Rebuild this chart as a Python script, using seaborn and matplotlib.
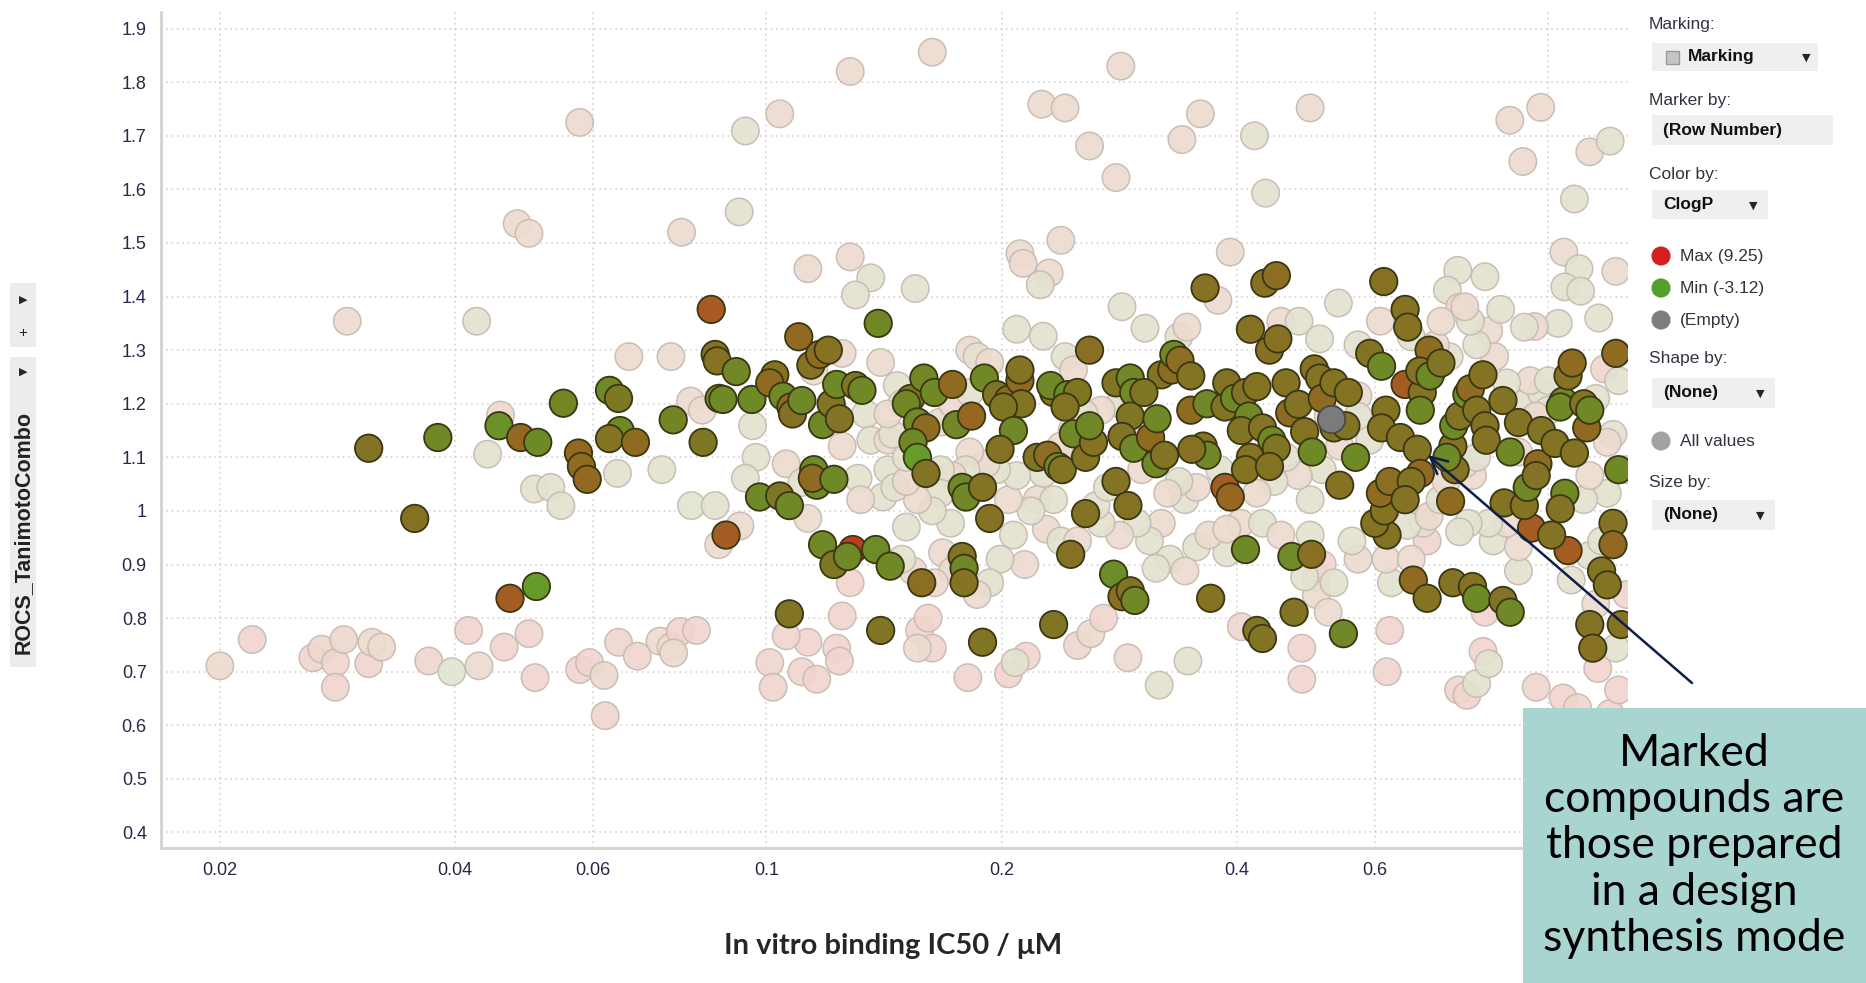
import matplotlib
matplotlib.use('Agg')
import matplotlib.pyplot as plt
import seaborn as sns
import pandas as pd
from matplotlib.colors import LinearSegmentedColormap, to_rgb
from matplotlib.patches import Rectangle
from matplotlib.ticker import NullLocator

# marked compounds (prepared in design synthesis mode)
marked_ic50 = [
    0.031, 0.0355, 0.038, 0.0455, 0.0485, 0.051, 0.0575, 0.058, 0.059, 0.055,
    0.063, 0.0647, 0.065, 0.063, 0.068, 0.076, 0.083, 0.047, 0.0508, 0.085,
    0.086, 0.0865, 0.087, 0.0915, 0.0888, 0.088, 0.0958, 0.098, 0.110, 0.114,
    0.117, 0.120, 0.1025, 0.101, 0.105, 0.1075, 0.108, 0.111, 0.118, 0.121,
    0.124, 0.123, 0.130, 0.1325, 0.139, 0.104, 0.107, 0.115, 0.116, 0.1145,
    0.122, 0.107, 0.118, 0.122, 0.129, 0.127, 0.138, 0.144, 0.140, 0.158,
    0.153, 0.151, 0.159, 0.164, 0.173, 0.156, 0.160, 0.154, 0.156, 0.160,
    0.175, 0.183, 0.190, 0.197, 0.204, 0.211, 0.211, 0.212, 0.201, 0.207,
    0.178, 0.180, 0.189, 0.193, 0.178, 0.179, 0.179, 0.189, 0.199, 0.222,
    0.229, 0.236, 0.233, 0.231, 0.243, 0.250, 0.241, 0.247, 0.239, 0.256,
    0.259, 0.233, 0.245, 0.256, 0.262, 0.259, 0.280, 0.292, 0.295, 0.292,
    0.285, 0.295, 0.280, 0.278, 0.290, 0.285, 0.292, 0.296, 0.310, 0.315,
    0.320, 0.323, 0.330, 0.304, 0.316, 0.332, 0.338, 0.349, 0.349, 0.364,
    0.366, 0.362, 0.366, 0.350, 0.386, 0.388, 0.397, 0.386, 0.392, 0.410,
    0.414, 0.405, 0.416, 0.410, 0.416, 0.434, 0.449, 0.440, 0.451, 0.424,
    0.431, 0.443, 0.449, 0.440, 0.410, 0.424, 0.431, 0.470, 0.473, 0.462,
    0.467, 0.479, 0.488, 0.498, 0.499, 0.502, 0.510, 0.514, 0.532, 0.532,
    0.541, 0.547, 0.551, 0.555, 0.567, 0.591, 0.616, 0.620, 0.612, 0.612,
    0.622, 0.600, 0.617, 0.610, 0.627, 0.656, 0.661, 0.656, 0.647, 0.680,
    0.686, 0.668, 0.656, 0.672, 0.690, 0.686, 0.710, 0.704, 0.685, 0.706,
    0.729, 0.760, 0.755, 0.742, 0.750, 0.700, 0.757, 0.770, 0.787, 0.795,
    0.825, 0.810, 0.830, 0.833, 0.875, 0.894, 0.916, 0.878, 0.755, 0.800,
    0.810, 0.875, 0.894, 0.952, 0.932, 0.970, 0.980, 1.02, 0.940, 0.965,
    1.045, 1.06, 1.036, 1.05, 1.036, 1.06, 1.01, 1.073, 1.08, 1.11,
    1.12, 1.13, 1.13, 1.14, 1.17, 1.19, 1.24, 1.22, 1.23, 1.21,
    1.21, 0.370,
]
marked_score = [
    1.117, 0.986, 1.137, 1.159, 1.137, 1.128, 1.108, 1.083, 1.059, 1.201,
    1.225, 1.210, 1.150, 1.135, 1.128, 1.170, 1.128, 0.837, 0.859, 1.376,
    1.292, 1.280, 1.210, 1.260, 0.955, 1.208, 1.208, 1.026, 1.325, 1.272,
    1.292, 1.300, 1.254, 1.239, 1.214, 1.194, 1.181, 1.206, 1.161, 1.200,
    1.172, 1.236, 1.234, 1.225, 1.350, 1.028, 1.010, 1.077, 1.048, 1.061,
    1.059, 0.808, 0.937, 0.900, 0.928, 0.915, 0.928, 0.897, 0.777, 0.866,
    1.210, 1.200, 1.248, 1.221, 1.236, 1.166, 1.155, 1.128, 1.100, 1.070,
    1.161, 1.177, 1.248, 1.217, 1.208, 1.243, 1.263, 1.200, 1.194, 1.150,
    1.044, 1.026, 1.044, 0.986, 0.915, 0.893, 0.866, 0.755, 1.115, 1.100,
    1.104, 1.083, 1.221, 1.234, 1.217, 1.221, 1.194, 1.144, 1.077, 1.100,
    1.300, 0.788, 0.919, 0.995, 1.128, 1.159, 1.239, 1.248, 1.221, 1.177,
    1.139, 1.117, 1.055, 0.882, 1.010, 0.840, 0.851, 0.833, 1.137, 1.088,
    1.254, 1.104, 1.263, 1.221, 1.172, 1.292, 1.281, 1.252, 1.188, 1.416,
    1.200, 1.121, 1.104, 1.115, 1.194, 1.239, 1.210, 1.044, 1.026, 1.221,
    1.177, 1.150, 1.100, 1.077, 1.339, 1.425, 1.439, 1.300, 1.321, 1.232,
    1.155, 1.132, 1.117, 1.083, 0.928, 0.777, 0.762, 0.915, 0.811, 1.239,
    1.183, 1.199, 1.148, 0.919, 1.110, 1.265, 1.248, 1.210, 1.239, 1.155,
    1.048, 0.771, 1.159, 1.221, 1.100, 1.294, 1.428, 1.188, 1.155, 1.270,
    0.955, 0.977, 1.000, 1.033, 1.055, 1.376, 1.343, 1.236, 1.137, 1.115,
    1.070, 1.055, 1.021, 0.871, 1.221, 1.188, 1.261, 1.300, 1.261, 1.252,
    1.276, 1.077, 1.121, 1.100, 1.018, 0.837, 1.159, 1.177, 1.217, 1.228,
    1.254, 1.188, 1.159, 1.132, 1.206, 1.110, 1.165, 1.015, 0.866, 0.859,
    0.837, 0.833, 0.811, 0.968, 1.010, 1.088, 1.150, 1.126, 1.044, 1.066,
    1.205, 1.252, 1.194, 1.033, 1.004, 0.926, 0.955, 1.276, 1.108, 1.200,
    1.155, 1.188, 0.788, 0.744, 0.888, 0.862, 0.788, 1.294, 1.077, 0.977,
    0.937, 0.837,
]
marked_clogp = [
    1.3, 1.5, -0.4, -1.2, 3.0, -0.6, 3.0, 2.8, 3.0, -0.3,
    -0.5, 0.8, -0.5, 1.4, 2.6, -0.2, 0.9, 4.2, -2.0, 4.5,
    1.6, 1.8, -0.4, -0.3, 4.2, -0.6, -0.5, -0.6, 2.8, 1.6,
    2.6, 1.8, 1.7, 2.6, -0.5, 2.7, 1.5, -0.4, -0.5, 1.2,
    1.3, -0.6, 1.0, -0.4, -0.3, 1.0, -0.5, -0.7, -0.4, 2.6,
    -0.5, 1.2, -0.4, 1.0, 7.0, -0.6, -0.7, -0.5, 1.1, 2.2,
    1.0, -0.3, -0.4, -0.5, 2.8, -0.5, 2.6, -0.3, -2.2, 1.3,
    -0.4, 3.2, -0.5, 1.2, 2.6, 2.7, 1.4, 1.3, 1.0, -0.4,
    -0.5, -0.4, 1.3, 1.6, 1.3, -0.3, 1.4, 1.2, 1.5, 1.2,
    2.5, -0.4, 1.2, -0.5, -0.6, 1.0, 1.3, -0.5, 1.3, 1.4,
    2.0, 1.2, 1.7, 1.5, 1.4, -0.3, 1.2, -0.4, -0.5, 1.1,
    1.3, -0.4, 1.3, -0.8, 1.5, 2.2, 1.2, -0.4, 2.6, -0.5,
    1.4, 1.2, 2.4, 1.1, -0.4, -0.5, 2.3, 1.3, 2.6, 1.8,
    -0.4, 1.3, -0.4, 1.7, 1.2, 1.5, -0.5, 4.3, 3.3, 1.3,
    -0.5, 1.2, 1.6, 1.4, 1.8, 2.0, 2.2, 1.9, 1.7, 1.4,
    1.2, -0.5, 1.1, 1.5, -0.6, 1.2, 1.3, -0.7, 1.3, 1.4,
    2.4, 1.3, 1.5, 2.0, -0.6, 1.5, 1.3, 2.6, 1.4, 1.2,
    1.6, -0.4, 1.2, 1.5, -0.6, 1.5, 1.9, 1.3, 1.4, -0.6,
    1.5, 1.4, 1.6, 2.6, 2.3, 1.8, 1.6, 4.3, 1.4, 1.2,
    2.7, 1.3, 1.4, 2.6, 1.3, -0.5, 1.5, 2.5, 1.3, -0.6,
    1.2, 1.3, 1.6, -0.5, 2.6, 1.4, -0.6, 1.3, -1.0, 2.5,
    1.4, 1.3, 1.5, 1.4, 1.3, -0.5, 1.3, 1.4, 1.3, 1.4,
    -0.6, 1.3, -0.4, 4.4, 1.4, 2.6, 1.3, 1.5, -0.5, 1.3,
    -0.6, 1.6, -0.5, -0.5, 1.3, 4.3, 1.4, 2.6, 1.4, 1.3,
    2.7, -0.5, 1.3, 1.8, 1.4, 1.3, 1.4, 2.6, -0.5, 1.3,
    2.8, 1.4,
]

# all other compounds (not marked)
other_ic50 = [
    0.020, 0.022, 0.0263, 0.027, 0.0281, 0.0281, 0.0288, 0.031, 0.0313, 0.0322,
    0.037, 0.0396, 0.0416, 0.0429, 0.0462, 0.0497, 0.0506, 0.0577, 0.0594, 0.0622,
    0.062, 0.0647, 0.0684, 0.0731, 0.0755, 0.0776, 0.0814, 0.0761, 0.0426, 0.0291,
    0.044, 0.0457, 0.048, 0.0497, 0.0505, 0.053, 0.0546, 0.0577, 0.0645, 0.0667,
    0.0735, 0.0755, 0.0779, 0.0802, 0.080, 0.0828, 0.086, 0.0869, 0.0923, 0.094,
    0.096, 0.097, 0.094, 0.0925,
    0.163, 0.284, 0.128, 0.104, 0.225, 0.241, 0.259, 0.280, 0.359, 0.340,
    0.421, 0.435, 0.496, 0.893, 0.978, 0.928, 1.13, 1.20, 1.08,
    0.113, 0.128, 0.136, 0.130, 0.155, 0.211, 0.213, 0.230, 0.224, 0.392,
    0.378, 0.766, 0.830, 0.743, 0.770, 0.539, 1.047, 1.095, 1.05, 1.10,
    1.16, 1.03, 0.96, 0.238,
    0.140, 0.125, 0.115, 0.147, 0.149, 0.134, 0.136, 0.143, 0.131, 0.141,
    0.143, 0.125, 0.106, 0.111, 0.113, 0.132,
    0.128, 0.125, 0.123, 0.113, 0.111, 0.116, 0.124, 0.101, 0.102, 0.106,
    0.157, 0.161, 0.163, 0.156, 0.181, 0.204, 0.215, 0.208, 0.250, 0.260,
    0.270, 0.290, 0.346, 0.318, 0.405, 0.484, 0.484, 0.622, 0.627, 0.768,
    0.787, 0.810, 0.825, 0.839, 0.830, 0.965, 1.045, 1.09, 1.157, 1.22,
    1.20, 1.23, 1.26, 1.15, 1.13,
    0.182, 0.186, 0.209, 0.226, 0.241, 0.247, 0.285, 0.305, 0.337, 0.345,
    0.455, 0.480, 0.510, 0.571, 0.610, 0.668, 0.839, 0.869, 0.932, 1.22,
    1.18, 1.23, 1.15, 1.21, 1.19, 1.26, 1.19, 1.11, 1.13, 1.17,
    1.07, 0.916, 0.850, 0.916, 0.885, 0.839, 0.790, 0.770, 0.700, 0.692,
    0.660, 0.630, 0.620, 0.668, 0.704, 0.727, 0.740, 0.800, 0.782, 0.810,
    0.916, 0.932, 0.980, 0.948, 1.000, 1.000, 0.965, 0.885, 0.854, 0.810,
    0.747, 0.717, 0.795, 0.729, 0.782, 0.571, 0.571, 0.591, 0.523, 0.514,
    0.541, 0.496, 0.479, 0.462, 0.446, 0.424, 0.404, 0.431, 0.455, 0.496,
    0.505, 0.514, 0.505, 0.523, 0.488, 0.532, 0.571, 0.561, 0.388, 0.355,
    0.368, 0.388, 0.343, 0.355, 0.380, 0.337, 0.326, 0.320, 0.309, 0.328,
    0.343, 0.315, 0.298, 0.283, 0.268, 0.264, 0.273, 0.302, 0.304, 0.283,
    0.268, 0.255, 0.246, 0.250, 0.238, 0.226, 0.222, 0.233, 0.228, 0.238,
    0.250, 0.218, 0.207, 0.214, 0.199, 0.193, 0.186, 0.204, 0.209, 0.197,
    0.191, 0.182, 0.180, 0.173, 0.167, 0.167, 0.172, 0.163, 0.168, 0.173,
    0.164, 0.154, 0.149, 0.151, 0.156, 0.146, 0.151, 0.151, 0.145, 0.143,
    0.167, 0.173, 0.182, 0.193,
]
other_score = [
    0.711, 0.760, 0.726, 0.742, 0.717, 0.671, 0.760, 0.715, 0.755, 0.746,
    0.720, 0.700, 0.777, 0.711, 0.746, 0.771, 0.689, 0.704, 0.717, 0.618,
    0.693, 0.755, 0.729, 0.757, 0.746, 0.775, 0.777, 0.735, 1.354, 1.354,
    1.106, 1.179, 1.536, 1.518, 1.041, 1.044, 1.010, 1.725, 1.070, 1.288,
    1.077, 1.288, 1.520, 1.010, 1.205, 1.188, 1.010, 0.937, 1.558, 1.709,
    1.159, 1.100, 1.061, 0.972,
    1.856, 1.830, 1.820, 1.741, 1.759, 1.752, 1.681, 1.622, 1.741, 1.693,
    1.700, 1.593, 1.752, 1.729, 1.753, 1.652, 1.670, 1.690, 1.582,
    1.452, 1.474, 1.435, 1.403, 1.415, 1.480, 1.462, 1.444, 1.422, 1.483,
    1.393, 1.449, 1.437, 1.412, 1.380, 1.388, 1.483, 1.452, 1.418, 1.410,
    1.360, 1.350, 1.344, 1.505,
    1.277, 1.294, 1.261, 1.234, 1.200, 1.181, 1.132, 1.132, 1.061, 1.026,
    1.077, 1.121, 1.088, 1.053, 0.986, 1.021,
    0.866, 0.804, 0.744, 0.755, 0.700, 0.686, 0.720, 0.717, 0.671, 0.767,
    0.777, 0.800, 0.744, 0.744, 0.689, 0.696, 0.729, 0.717, 0.749, 0.771,
    0.800, 0.726, 0.720, 0.675, 0.784, 0.744, 0.686, 0.700, 0.777, 0.666,
    0.656, 0.678, 0.738, 0.715, 0.811, 0.671, 0.651, 0.633, 0.706, 0.744,
    0.622, 0.666, 0.844, 0.826, 0.917,
    1.300, 1.288, 1.339, 1.326, 1.288, 1.263, 1.381, 1.341, 1.325, 1.343,
    1.354, 1.354, 1.321, 1.310, 1.354, 1.325, 1.336, 1.376, 1.343, 1.447,
    1.265, 1.243, 1.210, 1.143, 1.128, 1.077, 1.033, 1.021, 1.066, 0.944,
    0.871, 0.888, 0.944, 0.933, 0.977, 0.977, 0.977, 0.961, 0.944, 0.977,
    0.973, 0.866, 0.910, 0.910, 0.990, 1.021, 1.055, 1.066, 1.088, 1.100,
    1.110, 1.200, 1.221, 1.243, 1.243, 1.188, 1.177, 1.239, 1.288, 1.310,
    1.288, 1.310, 1.354, 1.354, 1.381, 1.215, 1.177, 1.132, 1.177, 1.077,
    1.121, 1.021, 1.066, 1.100, 1.055, 1.033, 0.977, 0.977, 0.955, 0.955,
    0.877, 0.900, 0.844, 0.811, 0.877, 0.866, 0.910, 0.944, 0.922, 0.933,
    0.955, 0.966, 1.021, 1.044, 1.077, 1.055, 1.033, 0.977, 0.944, 0.910,
    0.888, 0.893, 0.977, 0.955, 0.977, 1.010, 1.044, 1.077, 1.155, 1.200,
    1.188, 1.181, 1.150, 1.110, 1.121, 1.070, 1.021, 1.021, 0.966, 0.944,
    0.944, 1.000, 0.955, 0.900, 0.910, 0.866, 0.844, 1.021, 1.066, 1.077,
    1.088, 1.110, 1.077, 1.066, 1.077, 1.033, 0.977, 1.000, 0.922, 0.888,
    0.866, 0.888, 0.910, 0.970, 1.021, 1.044, 1.055, 1.100, 1.143, 1.181,
    1.166, 1.200, 1.221, 1.277,
]
other_clogp = [
    4.5, 6.5, 6.5, 6.0, 6.5, 6.5, 5.0, 6.5, 4.5, 4.5,
    6.5, -0.5, 6.5, 4.5, 6.5, 6.5, 6.5, 6.5, 6.5, 6.5,
    5.0, 6.5, 6.5, 4.5, 4.5, 6.5, 6.5, 4.5, 1.0, 4.5,
    1.0, 6.0, 4.5, 4.5, 1.0, 1.0, 1.0, 4.5, 1.0, 4.5,
    1.0, 4.5, 4.5, -0.5, 4.5, 4.5, 1.0, 4.5, 1.0, 1.0,
    1.0, 1.0, 1.0, 4.5,
    4.5, 4.5, 4.5, 4.5, 4.5, 4.5, 4.5, 4.5, 4.5, 4.5,
    1.0, 1.0, 4.5, 4.5, 4.5, 4.5, 4.5, 1.0, 1.0,
    4.5, 4.5, 1.0, 1.0, 1.0, 4.5, 4.5, 4.5, 1.0, 4.5,
    4.5, 1.0, 1.0, 1.0, 5.5, 1.0, 4.5, 1.0, 1.0, 1.0,
    1.0, 1.0, 5.0, 4.5,
    4.5, 4.5, 4.5, 1.0, 1.0, 1.0, 1.0, 4.5, 1.0, 1.0,
    1.0, 4.5, 4.5, 1.0, 4.5, 4.5,
    6.5, 6.5, 6.5, 6.5, 6.5, 6.5, 6.5, 6.5, 6.5, 6.5,
    6.5, 6.5, 6.5, 4.5, 6.5, 6.5, 6.5, 1.0, 6.5, 4.5,
    6.5, 4.5, 1.0, 1.0, 6.5, 6.5, 6.5, 6.5, 6.5, 6.5,
    6.5, 1.0, 6.5, 1.0, 6.5, 6.5, 6.5, 6.5, 6.5, 1.0,
    6.5, 6.5, 6.5, 4.5, 1.0,
    4.5, 1.0, 1.0, 1.0, 1.0, 4.5, 1.0, 1.0, 1.0, 4.5,
    4.5, 1.0, 1.0, 1.0, 4.5, 1.0, 4.5, 1.0, 1.0, 4.5,
    6.5, 1.0, 1.0, 1.0, 4.5, 4.5, 1.0, 1.0, 4.5, 1.0,
    1.0, 1.0, 1.0, 4.5, 4.5, 1.0, 1.0, 1.0, 6.5, 1.0,
    1.0, 1.0, 4.5, 4.5, 4.5, 1.0, 4.5, 4.5, 1.0, 1.0,
    4.5, 1.0, 1.0, 4.5, 1.0, 1.0, 4.5, 1.0, 4.5, 1.0,
    1.0, 4.5, 1.0, 4.5, 4.5, 4.5, 1.0, 1.0, 1.0, 1.0,
    4.5, 1.0, 4.5, 1.0, 1.0, 4.5, 4.5, 1.0, 4.5, 1.0,
    4.5, 6.5, 4.5, 4.5, 1.0, 1.0, 4.5, 1.0, 1.0, 1.0,
    4.5, 4.5, 1.0, 4.5, 1.0, 1.0, 4.5, 4.5, 1.0, 1.0,
    4.5, 1.0, 1.0, 4.5, 1.0, 1.0, 1.0, 4.5, 1.0, 1.0,
    4.5, 1.0, 1.0, 1.0, 4.5, 1.0, 4.5, 1.0, 4.5, 1.0,
    4.5, 1.0, 1.0, 4.5, 1.0, 1.0, 4.5, 4.5, 1.0, 1.0,
    4.5, 4.5, 1.0, 4.5, 1.0, 1.0, 1.0, 1.0, 4.5, 4.5,
    4.5, 4.5, 1.0, 1.0, 4.5, 1.0, 4.5, 1.0, 1.0, 4.5,
    1.0, 4.5, 1.0, 4.5,
]

# compound without a ClogP value
empty_ic50 = [0.528]
empty_score = [1.172]

x_ticks = [0.02, 0.04, 0.06, 0.1, 0.2, 0.4, 0.6, 1.0]
# the label of the last tick sits under the call-out box in the original
x_tick_labels = ['0.02', '0.04', '0.06', '0.1', '0.2', '0.4', '0.6', '']
y_ticks = [0.4, 0.5, 0.6, 0.7, 0.8, 0.9, 1.0, 1.1, 1.2, 1.3, 1.4, 1.5, 1.6, 1.7, 1.8, 1.9]
y_tick_labels = ['0.4', '0.5', '0.6', '0.7', '0.8', '0.9', '1', '1.1', '1.2', '1.3',
                 '1.4', '1.5', '1.6', '1.7', '1.8', '1.9']
clogp_min, clogp_max = -3.12, 9.25

# Spotfire-like continuous colour scale green (min) -> red (max)
anchors = [(0.0, '#5ea82a'), (0.2, '#6d8b27'), (0.33, '#7f7624'),
           (0.5, '#946821'), (0.62, '#a85a22'), (1.0, '#d42020')]
cmap = LinearSegmentedColormap.from_list('clogp', anchors)
# unmarked rows are drawn as faded versions of the same colours
pale_cmap = LinearSegmentedColormap.from_list(
    'clogp_pale', [(t, tuple(0.78 + 0.22 * c for c in to_rgb(col))) for t, col in anchors])

sns.set_style('white')
plt.rcParams['font.family'] = ['Liberation Sans', 'DejaVu Sans']

fig = plt.figure(figsize=(18.66, 9.83), dpi=100)
ax = fig.add_axes([0.0861, 0.1373, 0.7864, 0.8505])

others = pd.DataFrame({'ic50': other_ic50, 'score': other_score, 'clogp': other_clogp})
marked = pd.DataFrame({'ic50': marked_ic50, 'score': marked_score, 'clogp': marked_clogp})

sns.scatterplot(data=others, x='ic50', y='score', hue='clogp', palette=pale_cmap,
                hue_norm=(clogp_min, clogp_max), s=390, edgecolor='#c6bab2',
                linewidth=1.1, alpha=0.92, legend=False, ax=ax, zorder=2)
sns.scatterplot(data=marked, x='ic50', y='score', hue='clogp', palette=cmap,
                hue_norm=(clogp_min, clogp_max), s=390, edgecolor='#3a3712',
                linewidth=1.3, legend=False, ax=ax, zorder=3)
sns.scatterplot(x=empty_ic50, y=empty_score, color='#7b7b7b', s=390,
                edgecolor='#4a4a4a', linewidth=1.3, legend=False, ax=ax, zorder=3)

ax.set_xscale('log')
ax.set_xlim(0.0168, 1.265)
ax.set_ylim(0.371, 1.931)
ax.set_xticks(x_ticks)
ax.set_xticklabels(x_tick_labels)
ax.xaxis.set_minor_locator(NullLocator())
ax.set_yticks(y_ticks)
ax.set_yticklabels(y_tick_labels)
ax.set_xlabel('')
ax.set_ylabel('')
ax.grid(True, color='#cdcdcd', linestyle=(0, (1, 2.5)), linewidth=1.1)
ax.set_axisbelow(True)
for side in ['top', 'right']:
    ax.spines[side].set_visible(False)
for side in ['left', 'bottom']:
    ax.spines[side].set_color('#d2d2d2')
    ax.spines[side].set_linewidth(2)
ax.tick_params(axis='x', colors='#c8c8c8', labelcolor='#28284a', length=7, width=1.4,
               pad=3, labelsize=13)
ax.tick_params(axis='y', colors='#c8c8c8', labelcolor='#28284a', length=6, width=1.4,
               pad=4, labelsize=13)

# overlay in pixel units for the surrounding Spotfire chrome
ov = fig.add_axes([0, 0, 1, 1])
ov.set_xlim(0, 1866)
ov.set_ylim(983, 0)
ov.axis('off')

ov.text(893, 946, 'In vitro binding IC50 / μM', ha='center', va='center', fontsize=21,
        fontweight='bold', family=['Lato', 'DejaVu Sans'])

# y axis selector widget
ov.add_patch(Rectangle((10, 283), 26, 64, facecolor='#ececec', edgecolor='none'))
ov.text(23, 300, '▶', ha='center', va='center', fontsize=8, family='DejaVu Sans')
ov.text(23, 333, '+', ha='center', va='center', fontsize=11, color='#222222')
ov.add_patch(Rectangle((10, 357), 26, 310, facecolor='#ececec', edgecolor='none'))
ov.text(23, 372, '▶', ha='center', va='center', fontsize=8, family='DejaVu Sans')
ov.text(23, 532, 'ROCS_TanimotoCombo', ha='center', va='center', rotation=90,
        fontsize=15.5, fontweight='bold', color='#222222')

# legend panel
txt = dict(fontsize=12.5, color='#333340', va='center')
bold = dict(fontsize=12.5, color='#111111', va='center', fontweight='bold')
ov.text(1649, 24, 'Marking:', **txt)
ov.add_patch(Rectangle((1652, 43), 166, 28, facecolor='#efefef', edgecolor='none'))
ov.add_patch(Rectangle((1666, 51), 13, 13, facecolor='#c4c4c4', edgecolor='#9a9a9a', lw=1))
ov.text(1688, 57, 'Marking', **bold)
ov.text(1806, 58, '▼', ha='center', fontsize=8, va='center', family='DejaVu Sans')
ov.text(1649, 100, 'Marker by:', **txt)
ov.add_patch(Rectangle((1652, 115), 181, 30, facecolor='#efefef', edgecolor='none'))
ov.text(1663, 130, '(Row Number)', **bold)
ov.text(1649, 174, 'Color by:', **txt)
ov.add_patch(Rectangle((1652, 190), 116, 29, facecolor='#efefef', edgecolor='none'))
ov.text(1663, 205, 'ClogP', **bold)
ov.text(1753, 206, '▼', ha='center', fontsize=8, va='center', family='DejaVu Sans')
legend_rows = [(256, '#d42020', 'Max (9.25)'), (288, '#52a02a', 'Min (-3.12)'),
               (320, '#7d7d7d', '(Empty)')]
for py, col, lab in legend_rows:
    ov.scatter([1661], [py], s=190, color=col, edgecolor='none')
    ov.text(1680, py, lab, **txt)
ov.text(1649, 359, 'Shape by:', **txt)
ov.add_patch(Rectangle((1652, 378), 123, 30, facecolor='#efefef', edgecolor='none'))
ov.text(1663, 393, '(None)', **bold)
ov.text(1760, 394, '▼', ha='center', fontsize=8, va='center', family='DejaVu Sans')
ov.scatter([1661], [441], s=190, color='#a2a2a2', edgecolor='none')
ov.text(1680, 441, 'All values', **txt)
ov.text(1649, 482, 'Size by:', **txt)
ov.add_patch(Rectangle((1652, 500), 123, 30, facecolor='#efefef', edgecolor='none'))
ov.text(1663, 515, '(None)', **bold)
ov.text(1760, 516, '▼', ha='center', fontsize=8, va='center', family='DejaVu Sans')

# call-out
ov.annotate('', xy=(1428, 455), xytext=(1692, 683),
            arrowprops=dict(arrowstyle='->', color='#0d1e4a', lw=1.8,
                            mutation_scale=30, shrinkA=0, shrinkB=0))
ov.add_patch(Rectangle((1523, 708), 343, 275, facecolor='#a8d5cf', edgecolor='none'))
ov.text(1694, 846, 'Marked\ncompounds are\nthose prepared\nin a design\nsynthesis mode',
        ha='center', va='center', fontsize=32, linespacing=1.16, color='black',
        family=['Lato', 'DejaVu Sans'])

fig.savefig('out.png', dpi=100)
